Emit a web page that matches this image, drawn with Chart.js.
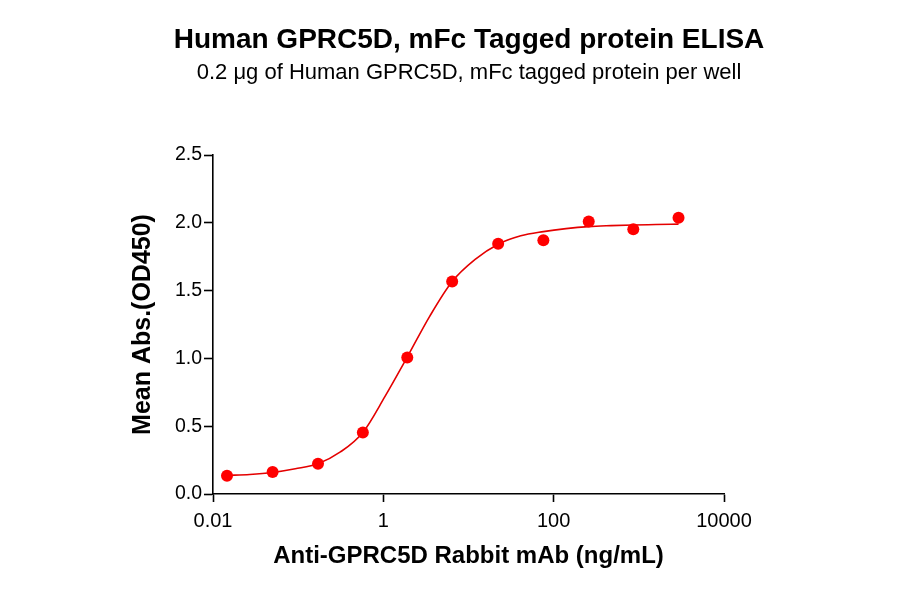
<!DOCTYPE html>
<html>
<head>
<meta charset="utf-8">
<script src="https://cdn.jsdelivr.net/npm/chart.js@4"></script>
<style>
  html, body { margin: 0; padding: 0; background: #fff; }
  #wrap { width: 900px; height: 594px; }
</style>
</head>
<body>
<div id="wrap"><canvas id="c" width="900" height="594"></canvas></div>
<script>
// ---- data ----
const concentrations = [0.0146, 0.0501, 0.171, 0.575, 1.91, 6.43, 22.3, 75.7, 258, 861, 2925];
const meanAbs = [0.135, 0.162, 0.223, 0.454, 1.007, 1.567, 1.845, 1.872, 2.009, 1.953, 2.038];
const fitX = [0.0146, 0.0270, 0.0501, 0.0925, 0.171, 0.313, 0.575, 1.047, 1.91, 3.50, 6.43, 11.97, 22.3, 41.1, 75.7, 139.6, 258, 471, 861, 1585, 2925];
const fitY = [0.137, 0.144, 0.159, 0.186, 0.223, 0.31, 0.454, 0.72, 1.01, 1.31, 1.567, 1.73, 1.842, 1.904, 1.935, 1.957, 1.972, 1.979, 1.984, 1.987, 1.99];
const xTickValues = [0.01, 1, 100, 10000];
const xTickLabels = ['0.01', '1', '100', '10000'];
const yTickValues = [0, 0.5, 1.0, 1.5, 2.0, 2.5];
const yTickLabels = ['0.0', '0.5', '1.0', '1.5', '2.0', '2.5'];
const titleText = 'Human GPRC5D, mFc Tagged protein ELISA';
const subtitleText = '0.2 \u03BCg of Human GPRC5D, mFc tagged protein per well';
const xTitle = 'Anti-GPRC5D Rabbit mAb (ng/mL)';
const yTitle = 'Mean Abs.(OD450)';

const FONT = '"Liberation Sans", Arial, Helvetica, sans-serif';

const pointData = concentrations.map((x, i) => ({ x: x, y: meanAbs[i] }));
const curveData = fitX.map((x, i) => ({ x: x, y: fitY[i] }));

new Chart(document.getElementById('c'), {
  type: 'scatter',
  data: {
    datasets: [
      {
        label: 'fit',
        data: curveData,
        showLine: true,
        borderColor: 'rgb(228,0,0)',
        borderWidth: 1.6,
        pointRadius: 0,
        cubicInterpolationMode: 'monotone',
        order: 2
      },
      {
        label: 'data',
        data: pointData,
        showLine: false,
        pointRadius: 6,
        pointBorderWidth: 0,
        backgroundColor: 'rgb(255,0,0)',
        borderColor: 'rgb(255,0,0)',
        order: 1
      }
    ]
  },
  options: {
    responsive: false,
    animation: false,
    devicePixelRatio: 1,
    layout: { padding: { left: 38, right: 0, top: 0, bottom: 0 } },
    plugins: {
      legend: { display: false },
      tooltip: { enabled: false },
      title: {
        display: true, text: titleText, color: '#000', fullSize: true,
        font: { family: FONT, size: 28, weight: 'bold' },
        padding: { top: 23.2, bottom: 0 }
      },
      subtitle: {
        display: true, text: subtitleText, color: '#000', fullSize: true,
        font: { family: FONT, size: 22, weight: 'normal' },
        padding: { top: 2.5, bottom: 69.3 }
      }
    },
    scales: {
      x: {
        type: 'logarithmic',
        min: 0.01, max: 10000,
        afterBuildTicks: (s) => { s.ticks = xTickValues.map(v => ({ value: v })); },
        afterFit: (s) => { s.height = 100; },
        ticks: {
          autoSkip: false, maxRotation: 0, color: '#000', padding: 7,
          font: { family: FONT, size: 20 },
          callback: (v, i) => xTickLabels[i]
        },
        grid: { display: true, drawOnChartArea: false, drawTicks: true, tickLength: 8, tickColor: '#000', tickWidth: 1.6 },
        border: { display: true, color: '#000', width: 1.6 },
        title: {
          display: true, text: xTitle, color: '#000',
          font: { family: FONT, size: 24, weight: 'bold' },
          padding: { top: 23.6, bottom: 23.6 }
        }
      },
      y: {
        type: 'linear',
        position: 'left',
        min: 0, max: 2.5,
        afterBuildTicks: (s) => { s.ticks = yTickValues.map(v => ({ value: v })); },
        afterFit: (s) => { s.width = 175; },
        ticks: {
          autoSkip: false, color: '#000', padding: 2,
          font: { family: FONT, size: 19.5 },
          callback: (v, i) => yTickLabels[i]
        },
        grid: { display: true, drawOnChartArea: false, drawTicks: true, tickLength: 9, tickColor: '#000', tickWidth: 1.6 },
        border: { display: true, color: '#000', width: 1.6 },
        title: {
          display: true, text: yTitle, color: '#000',
          font: { family: FONT, size: 25, weight: 'bold' },
          padding: { top: 90, bottom: 90 }
        }
      },
      yRightSpace: {
        type: 'linear',
        position: 'right',
        min: 0, max: 2.5,
        afterFit: (s) => { s.width = 176; },
        ticks: { display: false },
        grid: { display: false, drawOnChartArea: false, drawTicks: false },
        border: { display: false },
        title: { display: false }
      }
    }
  }
});
</script>
</body>
</html>
